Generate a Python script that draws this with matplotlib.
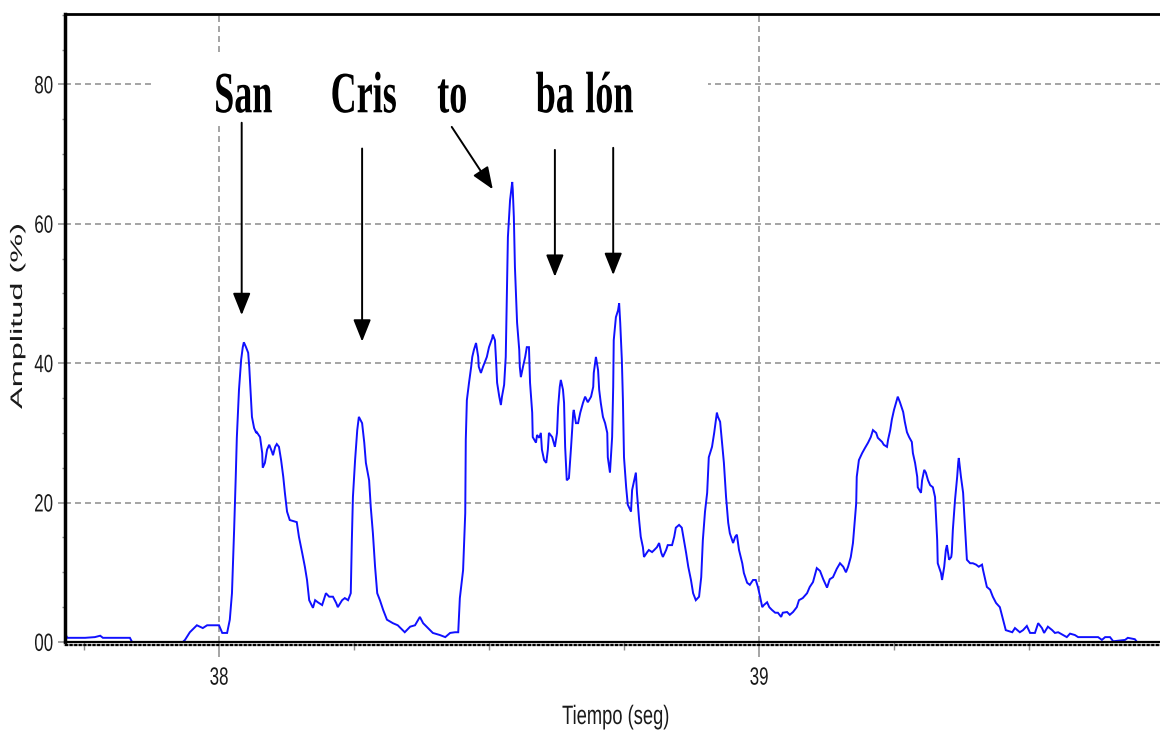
import matplotlib
matplotlib.use("Agg")
import matplotlib.pyplot as plt
from matplotlib.patheffects import AbstractPathEffect
from matplotlib.transforms import Affine2D, ScaledTranslation
from matplotlib.patches import Rectangle
from matplotlib.ticker import MultipleLocator

plt.rcParams['lines.scale_dashes'] = False
plt.rcParams['font.family'] = ['Liberation Sans', 'DejaVu Sans']

# Envolvente de amplitud de la frase "San Cristóbal"
tiempo = [
    37.715, 37.719, 37.752, 37.770, 37.780, 37.785, 37.835, 37.839, 37.933, 37.937,
    37.946, 37.959, 37.970, 37.978, 38.000, 38.006, 38.015, 38.020, 38.024, 38.028,
    38.031, 38.033, 38.037, 38.041, 38.044, 38.046, 38.050, 38.054, 38.056, 38.059,
    38.061, 38.065, 38.069, 38.070, 38.076, 38.080, 38.081, 38.085, 38.089, 38.093,
    38.098, 38.100, 38.104, 38.107, 38.111, 38.115, 38.119, 38.122, 38.126, 38.131,
    38.144, 38.148, 38.154, 38.159, 38.163, 38.167, 38.174, 38.178, 38.183, 38.191,
    38.198, 38.204, 38.211, 38.217, 38.220, 38.228, 38.233, 38.239, 38.244, 38.246,
    38.248, 38.252, 38.256, 38.259, 38.265, 38.269, 38.272, 38.278, 38.281, 38.285,
    38.289, 38.293, 38.298, 38.304, 38.311, 38.322, 38.331, 38.344, 38.354, 38.363,
    38.372, 38.378, 38.387, 38.396, 38.409, 38.419, 38.428, 38.437, 38.443, 38.446,
    38.452, 38.456, 38.457, 38.459, 38.463, 38.467, 38.469, 38.472, 38.476, 38.480,
    38.481, 38.485, 38.489, 38.496, 38.500, 38.506, 38.507, 38.511, 38.513, 38.515,
    38.519, 38.522, 38.524, 38.528, 38.531, 38.533, 38.535, 38.539, 38.543, 38.544,
    38.546, 38.548, 38.552, 38.556, 38.557, 38.559, 38.563, 38.567, 38.570, 38.574,
    38.576, 38.580, 38.581, 38.587, 38.589, 38.593, 38.596, 38.598, 38.602, 38.606,
    38.609, 38.611, 38.617, 38.622, 38.626, 38.628, 38.631, 38.633, 38.637, 38.639,
    38.641, 38.644, 38.648, 38.652, 38.656, 38.657, 38.661, 38.665, 38.669, 38.674,
    38.678, 38.683, 38.689, 38.693, 38.694, 38.698, 38.702, 38.704, 38.707, 38.711,
    38.715, 38.719, 38.720, 38.724, 38.728, 38.730, 38.731, 38.735, 38.739, 38.741,
    38.743, 38.746, 38.748, 38.750, 38.754, 38.757, 38.763, 38.765, 38.769, 38.772,
    38.774, 38.778, 38.781, 38.785, 38.787, 38.793, 38.796, 38.802, 38.806, 38.811,
    38.815, 38.819, 38.822, 38.828, 38.831, 38.839, 38.843, 38.846, 38.852, 38.857,
    38.861, 38.865, 38.869, 38.874, 38.878, 38.883, 38.889, 38.893, 38.896, 38.900,
    38.904, 38.907, 38.913, 38.917, 38.922, 38.924, 38.928, 38.931, 38.935, 38.939,
    38.943, 38.946, 38.952, 38.956, 38.959, 38.963, 38.969, 38.972, 38.978, 38.983,
    38.989, 38.994, 38.998, 39.002, 39.006, 39.009, 39.015, 39.019, 39.024, 39.030,
    39.035, 39.041, 39.044, 39.052, 39.057, 39.063, 39.070, 39.074, 39.081, 39.089,
    39.094, 39.100, 39.107, 39.113, 39.119, 39.126, 39.131, 39.137, 39.144, 39.150,
    39.156, 39.161, 39.165, 39.170, 39.174, 39.176, 39.180, 39.181, 39.185, 39.191,
    39.196, 39.202, 39.207, 39.211, 39.217, 39.220, 39.228, 39.231, 39.237, 39.239,
    39.243, 39.246, 39.250, 39.254, 39.257, 39.261, 39.267, 39.270, 39.274, 39.278,
    39.283, 39.285, 39.289, 39.293, 39.294, 39.300, 39.302, 39.306, 39.309, 39.313,
    39.317, 39.322, 39.326, 39.330, 39.331, 39.337, 39.339, 39.343, 39.346, 39.348,
    39.352, 39.356, 39.357, 39.359, 39.363, 39.367, 39.369, 39.370, 39.374, 39.378,
    39.380, 39.383, 39.385, 39.391, 39.396, 39.402, 39.407, 39.413, 39.415, 39.422,
    39.428, 39.433, 39.439, 39.446, 39.452, 39.457, 39.469, 39.474, 39.483, 39.489,
    39.496, 39.502, 39.511, 39.517, 39.524, 39.528, 39.535, 39.543, 39.548, 39.554,
    39.563, 39.570, 39.576, 39.585, 39.591, 39.628, 39.635, 39.641, 39.650, 39.656,
    39.678, 39.683, 39.696, 39.700, 39.743,
]

amplitud = [
    1.2, 0.6, 0.6, 0.7, 0.9, 0.6, 0.6, 0.0, 0.0, 0.3,
    1.4, 2.4, 2.0, 2.4, 2.4, 1.3, 1.3, 3.2, 7.0, 16.1,
    23.7, 29.3, 36.2, 40.5, 42.3, 43.0, 42.3, 41.5, 39.5, 35.2,
    32.3, 30.7, 30.0, 30.1, 29.4, 27.1, 25.0, 25.7, 27.6, 28.3,
    27.3, 26.8, 28.0, 28.4, 28.0, 26.1, 23.7, 21.4, 18.7, 17.5,
    17.2, 15.1, 12.8, 10.8, 8.9, 6.0, 4.9, 6.0, 5.7, 5.3,
    7.0, 6.5, 6.5, 5.6, 5.0, 6.0, 6.3, 6.0, 7.0, 14.6,
    20.8, 26.1, 30.4, 32.3, 31.4, 28.6, 25.7, 23.2, 19.4, 15.6,
    10.8, 7.0, 6.0, 4.6, 3.2, 2.7, 2.4, 1.4, 2.2, 2.4,
    3.6, 2.7, 2.0, 1.3, 1.0, 0.7, 1.3, 1.4, 1.4, 6.3,
    10.3, 18.5, 29.0, 34.7, 37.2, 39.5, 40.9, 41.9, 42.9, 40.9,
    39.5, 38.6, 39.5, 40.9, 42.3, 43.6, 44.1, 43.3, 40.5, 37.2,
    35.2, 34.0, 35.2, 36.9, 40.9, 49.5, 58.1, 63.4, 66.0, 64.9,
    61.0, 53.8, 45.8, 41.9, 39.5, 38.0, 39.5, 40.9, 42.3, 42.3,
    37.2, 32.9, 29.4, 28.6, 29.7, 29.3, 30.0, 27.6, 26.1, 25.7,
    27.6, 30.0, 29.4, 28.0, 30.0, 33.7, 36.6, 37.6, 36.2, 34.3,
    28.0, 23.2, 23.5, 28.0, 32.9, 33.3, 31.4, 31.4, 32.9, 34.3,
    35.2, 34.4, 35.2, 36.6, 38.6, 40.9, 39.0, 36.2, 34.3, 32.3,
    31.4, 30.0, 26.5, 24.3, 29.4, 36.6, 43.3, 46.6, 47.6, 48.6,
    45.8, 40.5, 34.7, 26.5, 22.2, 19.7, 18.7, 21.8, 23.2, 24.3,
    21.4, 17.5, 15.1, 13.6, 12.2, 12.9, 13.2, 12.9, 13.2, 13.6,
    14.2, 12.8, 12.2, 13.2, 13.9, 13.9, 15.1, 16.4, 16.8, 16.4,
    14.6, 12.8, 10.8, 8.9, 7.0, 6.0, 6.5, 9.3, 14.6, 18.7,
    21.4, 26.5, 28.0, 30.0, 32.9, 32.3, 31.6, 29.0, 25.7, 20.8,
    17.1, 15.6, 14.2, 15.1, 15.4, 13.2, 11.3, 9.9, 8.5, 8.2,
    8.9, 8.9, 7.9, 6.5, 5.0, 5.3, 5.7, 5.0, 4.6, 4.2,
    4.2, 3.6, 4.2, 4.3, 3.9, 4.3, 5.0, 6.0, 6.3, 7.0,
    7.9, 8.6, 10.6, 10.2, 9.0, 7.8, 9.0, 9.3, 10.5, 11.3,
    10.8, 10.0, 10.8, 12.2, 14.2, 16.1, 19.9, 23.7, 26.1, 27.1,
    27.8, 28.6, 29.4, 30.4, 30.0, 29.3, 28.7, 28.3, 28.0, 29.0,
    30.4, 31.9, 33.3, 34.4, 35.2, 34.4, 33.0, 31.6, 30.1, 29.4,
    28.7, 27.1, 25.7, 23.7, 22.2, 21.4, 23.2, 24.7, 24.3, 23.2,
    22.5, 22.2, 20.8, 14.6, 11.3, 9.9, 8.9, 10.8, 13.2, 13.9,
    11.8, 12.2, 12.8, 16.1, 20.4, 23.7, 25.8, 26.4, 23.7, 21.4,
    18.5, 14.6, 11.8, 11.3, 11.3, 11.1, 10.8, 11.1, 10.3, 7.9,
    7.5, 6.5, 5.6, 5.0, 3.2, 1.7, 1.4, 2.0, 1.4, 1.7,
    2.3, 1.3, 1.3, 2.7, 2.0, 1.3, 2.2, 1.7, 1.3, 1.4,
    1.0, 0.7, 1.2, 1.0, 0.7, 0.7, 0.3, 0.7, 0.7, 0.1,
    0.3, 0.6, 0.4, 0.0, 0.0,
]

silabas = ["San", "Cris", "to", "ba", "lón"]
silaba_x = [38.045, 38.268, 38.432, 38.622, 38.723]
silaba_base = 76.0
# flechas: (x_cola, y_cola, x_punta, y_punta)
flechas = [
    (38.042, 74.5, 38.042, 46.9),
    (38.265, 70.8, 38.265, 43.1),
    (38.431, 73.9, 38.507, 64.95),
    (38.622, 70.6, 38.622, 52.4),
    (38.730, 70.9, 38.730, 52.65),
]

x_ticks = [38, 39]
x_tick_labels = ["38", "39"]
y_ticks = [0, 20, 40, 60, 80]
y_tick_labels = ["00", "20", "40", "60", "80"]


class Stretch(AbstractPathEffect):
    """Scales glyph outlines in their own frame before placing them."""

    def __init__(self, sx=1.0, sy=1.0, cx=0.0, cy=0.0):
        super().__init__()
        self._pre = Affine2D().translate(-cx, -cy).scale(sx, sy).translate(cx, cy)

    def draw_path(self, renderer, gc, tpath, affine, rgbFace=None):
        renderer.draw_path(gc, tpath, self._pre + affine, rgbFace)


W, H = 1160, 732
fig = plt.figure(figsize=(W / 100, H / 100), dpi=100)
ax = fig.add_axes([65 / W, 90 / H, 1095 / W, 628 / H])
ax.set_xlim(37.7148, 39.7426)
ax.set_ylim(0, 90.1)
ax.set_axisbelow(True)

grid_kw = dict(color='#8c8c8c', linestyle=(0, (4.3, 2.9)), linewidth=1.1)
ax.grid(True, which='major', **grid_kw)

ax.plot(tiempo, amplitud, color='#1010ff', lw=1.4, zorder=2, solid_joinstyle='miter')

# fondo blanco detrás de las sílabas
ax.add_patch(Rectangle((37.881, 74.5), 1.025, 10.0, facecolor='white',
                       edgecolor='none', zorder=1))

pe_big = [Stretch(sy=1.62)]
for s, x in zip(silabas, silaba_x):
    ax.text(x, silaba_base, s, ha='center', va='baseline',
            fontfamily='Liberation Serif', fontweight='bold', fontsize=26,
            color='black', zorder=4, path_effects=pe_big)

for x0, y0, x1, y1 in flechas:
    ax.annotate('', xy=(x1, y1), xytext=(x0, y0),
                arrowprops=dict(arrowstyle='-|>,head_length=0.9,head_width=0.36',
                                mutation_scale=15, lw=1.4, color='black',
                                shrinkA=0, shrinkB=0),
                zorder=4)

# spines
ax.spines['right'].set_visible(False)
ax.spines['left'].set_linewidth(2.5)
ax.spines['top'].set_linewidth(2.0)
ax.spines['bottom'].set_linewidth(1.6)
for side in ('left', 'top', 'bottom'):
    ax.spines[side].set_color('black')

# fila punteada bajo el eje de tiempo
off = ScaledTranslation(0, -2.7 / 100, fig.dpi_scale_trans)
ax.plot([0, 1], [0, 0], transform=ax.transAxes + off, color='#9a9a9a',
        lw=1.6, clip_on=False, zorder=2.6)
ax.plot([0, 1], [0, 0], transform=ax.transAxes + off, color='black',
        lw=1.6, ls=(0, (2.2, 1.1)), clip_on=False, zorder=2.7)

ax.set_xticks(x_ticks)
ax.set_xticklabels(x_tick_labels)
ax.set_yticks(y_ticks)
ax.set_yticklabels(y_tick_labels)
ax.xaxis.set_minor_locator(MultipleLocator(0.25))
ax.yaxis.set_minor_locator(MultipleLocator(5))

ax.tick_params(axis='x', which='major', length=10.5, width=1.1, color='#8c8c8c',
               pad=9.5, labelsize=12.2, labelcolor='#1a1a1a')
ax.tick_params(axis='x', which='minor', length=5.5, width=1.0, color='#8c8c8c')
ax.tick_params(axis='y', which='major', length=5, width=1.1, color='#8c8c8c',
               pad=3.6, labelsize=12.2, labelcolor='#1a1a1a')
ax.tick_params(axis='y', which='minor', length=2, width=1.0, color='#8c8c8c')

pe_tick = [Stretch(sy=1.47, cy=36)]
for lab in ax.get_xticklabels() + ax.get_yticklabels():
    lab.set_path_effects(pe_tick)

ax.set_xlabel('Tiempo (seg)', fontsize=13.2, color='#1a1a1a', va='baseline',
              ha='center', path_effects=[Stretch(sy=1.45)])
ax.xaxis.set_label_coords((616 - 65) / 1095, (642 - 724) / 628)

ax.set_ylabel('Amplitud (%)', fontsize=12, color='#1a1a1a', rotation=90,
              rotation_mode='anchor', ha='left', va='baseline',
              path_effects=[Stretch(sx=1.95)])
ax.yaxis.set_label_coords((22 - 65) / 1095, (642 - 409) / 628)

fig.savefig('out.png', dpi=100)
